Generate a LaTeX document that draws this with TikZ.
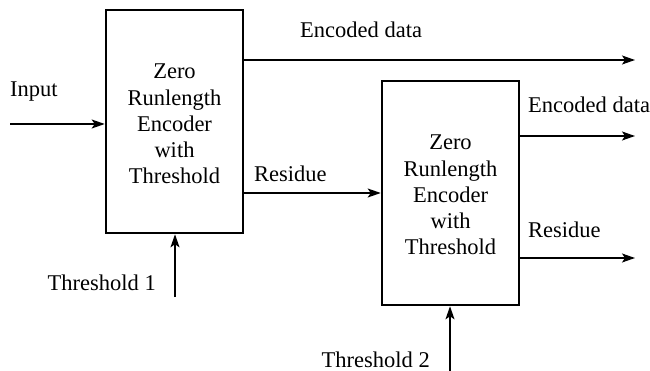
\documentclass[tikz,border=0pt]{standalone}
\usepackage{fontspec}
\setmainfont{Liberation Serif}
\usetikzlibrary{arrows.meta}
\begin{document}
\begin{tikzpicture}[x=1pt,y=-1pt,
  every node/.style={font=\fontsize{22.5}{26.25}\selectfont, inner sep=0pt},
  coder/.style={draw, line width=2.6pt, minimum width=137pt, align=center},
  flow/.style={line width=1.4pt, -{Stealth[length=13pt,width=9pt,inset=3pt]}},
  lbl/.style={anchor=base west},
  lblr/.style={anchor=base east}]
\useasboundingbox (0,0) rectangle (650,371);

% encoder blocks
\node[coder, minimum height=223pt] (b1) at (174.5,121.5) {};
\node[align=center] (t1) at (174.5,124) {Zero\\Runlength\\Encoder\\with\\Threshold};
\node[coder, minimum height=224pt] (b2) at (450.5,193) {};
\node[align=center] (t2) at (450.5,195) {Zero\\Runlength\\Encoder\\with\\Threshold};

% free ends of the connectors
\coordinate (inA) at (10,124);
\coordinate (enc1) at (635,60);
\coordinate (enc2) at (635,136);
\coordinate (res2) at (635,258);
\coordinate (th1) at (175,297);
\coordinate (th2) at (450,372);

% connectors
\draw[flow] (inA) -- (inA -| b1.west);
\draw[flow] (b1.east |- enc1) -- (enc1);
\draw[flow] (b1.east |- 0,193) -- (b2.west |- 0,193);
\draw[flow] (b2.east |- enc2) -- (enc2);
\draw[flow] (b2.east |- res2) -- (res2);
\draw[flow] (th1) -- (th1 |- b1.south);
\draw[flow] (th2) -- (th2 |- b2.south);

% labels
\node[lbl] (lin) at (10,97) {Input};
\node[lbl] (lenc1) at (300,38) {Encoded data};
\node[lbl] (lres1) at (254,182) {Residue};
\node[lbl] (lenc2) at (528,113) {Encoded data};
\node[lbl] (lres2) at (528,237) {Residue};
\node[lblr] (lth1) at (156,290) {Threshold 1};
\node[lblr] (lth2) at (430,367) {Threshold 2};
\end{tikzpicture}
\end{document}
